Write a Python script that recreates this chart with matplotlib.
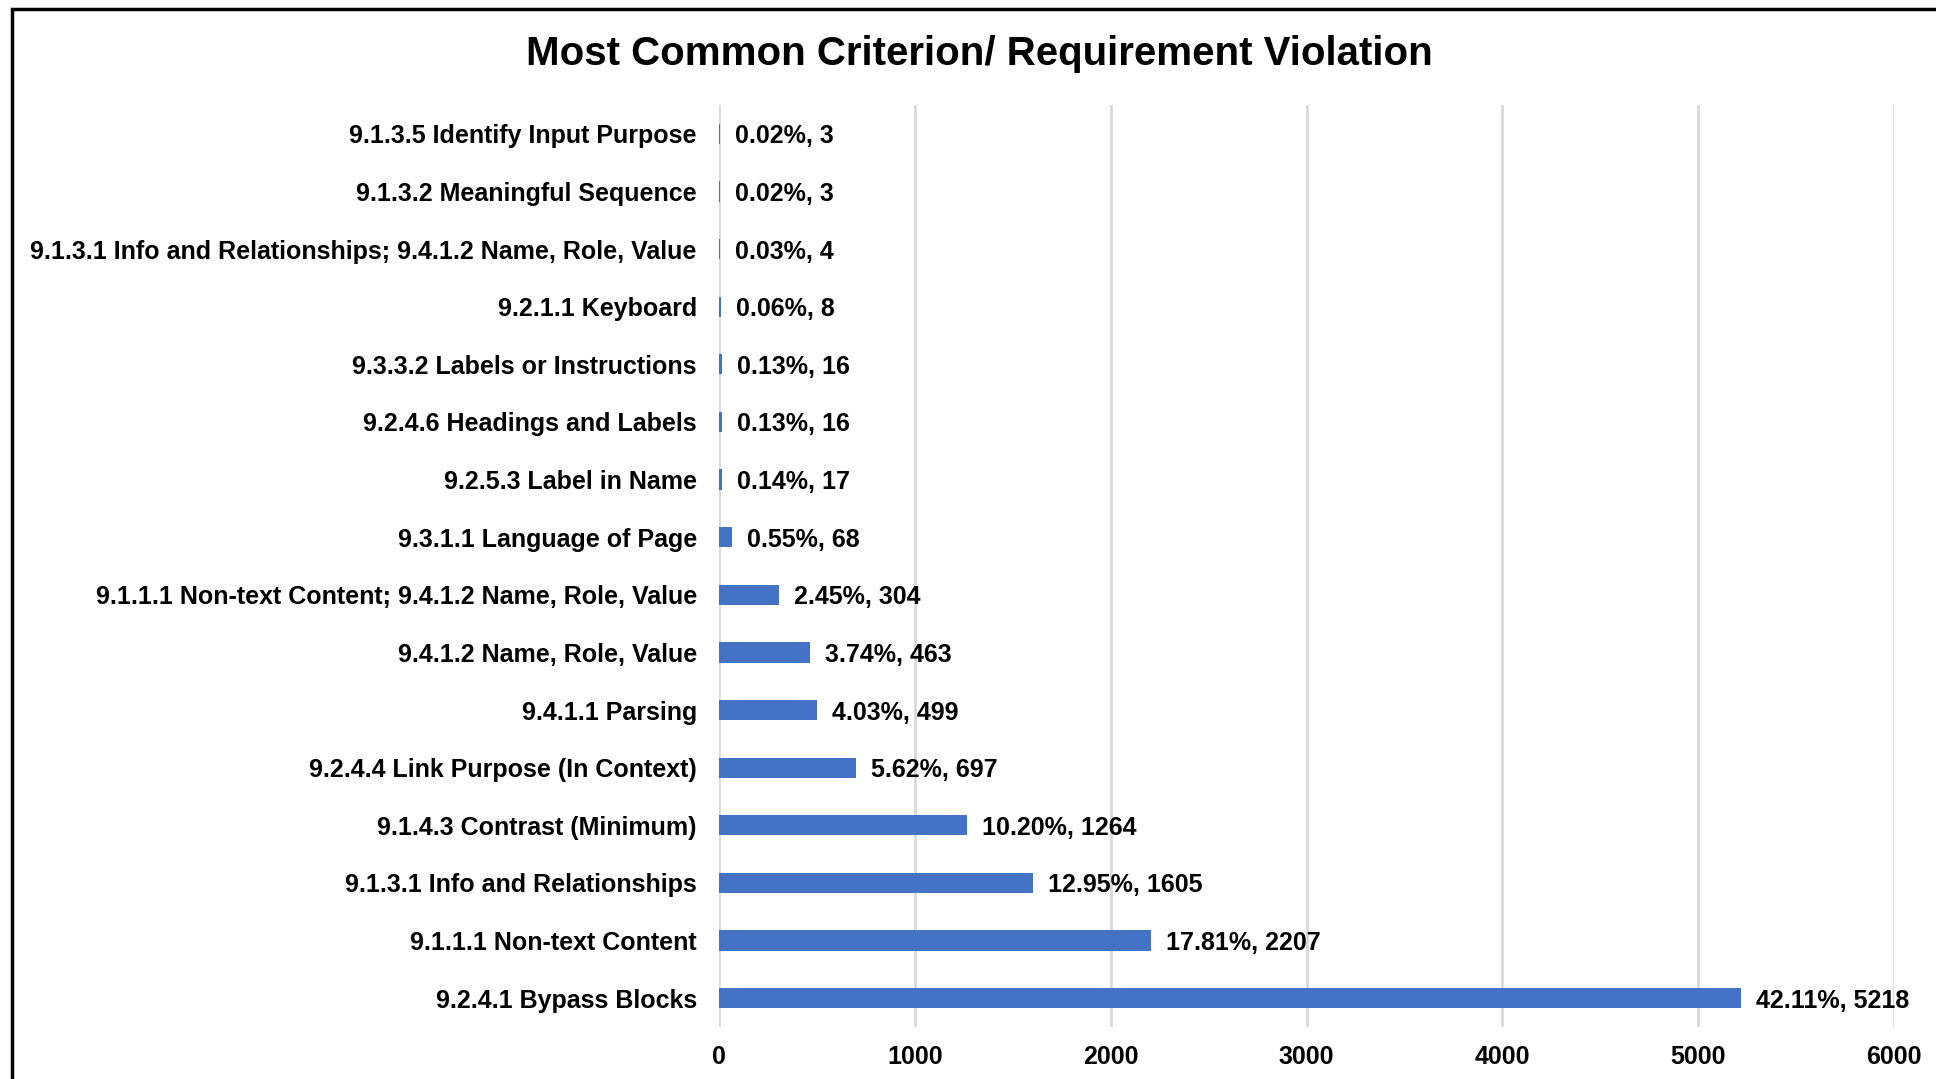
import matplotlib.pyplot as plt
from matplotlib.patches import Rectangle

plt.rcParams["font.family"] = ["Liberation Sans", "DejaVu Sans"]
plt.rcParams["font.weight"] = "bold"

# bottom to top, as drawn
categories = [
    "9.2.4.1 Bypass Blocks",
    "9.1.1.1 Non-text Content",
    "9.1.3.1 Info and Relationships",
    "9.1.4.3 Contrast (Minimum)",
    "9.2.4.4 Link Purpose (In Context)",
    "9.4.1.1 Parsing",
    "9.4.1.2 Name, Role, Value",
    "9.1.1.1 Non-text Content; 9.4.1.2 Name, Role, Value",
    "9.3.1.1 Language of Page",
    "9.2.5.3 Label in Name",
    "9.2.4.6 Headings and Labels",
    "9.3.3.2 Labels or Instructions",
    "9.2.1.1 Keyboard",
    "9.1.3.1 Info and Relationships; 9.4.1.2 Name, Role, Value",
    "9.1.3.2 Meaningful Sequence",
    "9.1.3.5 Identify Input Purpose",
]
counts = [5218, 2207, 1605, 1264, 697, 499, 463, 304, 68, 17, 16, 16, 8, 4, 3, 3]
percents = [42.11, 17.81, 12.95, 10.20, 5.62, 4.03, 3.74, 2.45, 0.55, 0.14, 0.13, 0.13, 0.06, 0.03, 0.02, 0.02]
xticks = [0, 1000, 2000, 3000, 4000, 5000, 6000]

bar_color = "#4472C4"
grid_color = "#D9D9D9"

fig = plt.figure(figsize=(19.36, 10.79), dpi=100)
ax = fig.add_axes([0.3714, 0.0482, 0.9783 - 0.3714, 0.9027 - 0.0482])

y = list(range(len(categories)))
ax.barh(y, counts, height=0.35, color=bar_color, zorder=3)

for yi, c, p in zip(y, counts, percents):
    ax.annotate(f"{p:.2f}%, {c}", xy=(c, yi), xytext=(15, 0),
                textcoords="offset pixels", va="center_baseline", ha="left",
                fontsize=18, fontweight="bold", color="black")

ax.set_xlim(0, 6000)
ax.set_ylim(-0.5, len(categories) - 0.5)
ax.set_xticks(xticks)
ax.set_xticklabels([str(t) for t in xticks])
ax.set_yticks(y)
ax.set_yticklabels(categories)
ax.tick_params(axis="x", length=0, pad=13, labelsize=18)
ax.tick_params(axis="y", length=0, pad=16, labelsize=18)
for lab in ax.get_xticklabels() + ax.get_yticklabels():
    lab.set_fontweight("bold")

ax.grid(axis="x", color=grid_color, linewidth=2, zorder=0)
ax.set_axisbelow(True)
for s in ax.spines.values():
    s.set_visible(False)

fig.text(0.506, 0.9495, "Most Common Criterion/ Requirement Violation",
         ha="center", va="center", fontsize=29, fontweight="bold")

# chart border, cropped on the right and bottom in the reference
W, H = 1936, 1079
fig.patches.append(Rectangle((12 / W, -0.1), 1.2, 1 - 9 / H + 0.1,
                             transform=fig.transFigure, fill=False,
                             edgecolor="black", linewidth=2.5))

fig.savefig("out.png", dpi=100)
